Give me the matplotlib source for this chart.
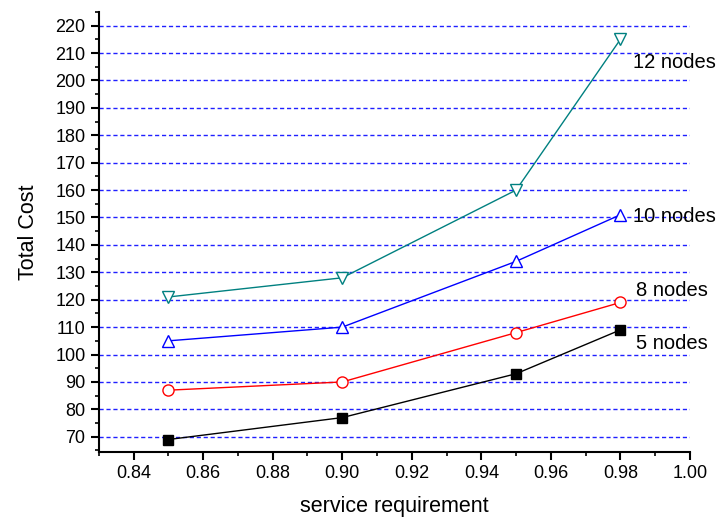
import matplotlib
matplotlib.use("Agg")
import matplotlib.pyplot as plt
from matplotlib.ticker import MultipleLocator

plt.rcParams['font.family'] = ['Liberation Sans', 'DejaVu Sans']

service = [0.85, 0.90, 0.95, 0.98]
cost_5 = [69, 77, 93, 109]
cost_8 = [87, 90, 108, 119]
cost_10 = [105, 110, 134, 151]
cost_12 = [121, 128, 160, 215]

labels = ["5 nodes", "8 nodes", "10 nodes", "12 nodes"]
label_pos = [(0.9845, 104), (0.9845, 123.5), (0.9835, 150.5), (0.9835, 206.5)]

fig = plt.figure(figsize=(7.21, 5.17), dpi=100)
ax = fig.add_axes([0.137, 0.126, 0.820, 0.851])

ax.plot(service, cost_5, color="black", lw=1, marker="s", ms=7,
        mfc="black", mec="black")
ax.plot(service, cost_8, color="red", lw=1, marker="o", ms=8,
        mfc="white", mec="red")
ax.plot(service, cost_10, color="blue", lw=1, marker="^", ms=9,
        mfc="white", mec="blue")
ax.plot(service, cost_12, color="#008080", lw=1, marker="v", ms=9,
        mfc="white", mec="#008080")

for lab, (x, y) in zip(labels, label_pos):
    ax.text(x, y, lab, fontsize=14.5, ha="left", va="center")

ax.set_xlim(0.83, 1.00)
ax.set_ylim(64.5, 225)
ax.xaxis.set_minor_locator(MultipleLocator(0.01))
ax.yaxis.set_major_locator(MultipleLocator(10))
ax.yaxis.set_minor_locator(MultipleLocator(5))
xt = [0.84, 0.86, 0.88, 0.90, 0.92, 0.94, 0.96, 0.98, 1.00]
ax.set_xticks(xt)
ax.set_xticklabels(["%.2f" % v for v in xt])

for v in range(70, 221, 10):
    ax.axhline(v, color="#2020ff", lw=1, ls=(0, (3, 2)), zorder=0)

ax.spines["top"].set_visible(False)
ax.spines["right"].set_visible(False)
ax.spines["left"].set_linewidth(1.5)
ax.spines["bottom"].set_linewidth(1.5)
ax.tick_params(which="major", direction="out", length=6, width=1.5, labelsize=13)
ax.tick_params(which="minor", direction="out", length=3, width=1.2)

ax.set_xlabel("service requirement", fontsize=15.5, labelpad=10)
ax.set_ylabel("Total Cost", fontsize=15.5, labelpad=12)

fig.savefig("out.png", dpi=100)
